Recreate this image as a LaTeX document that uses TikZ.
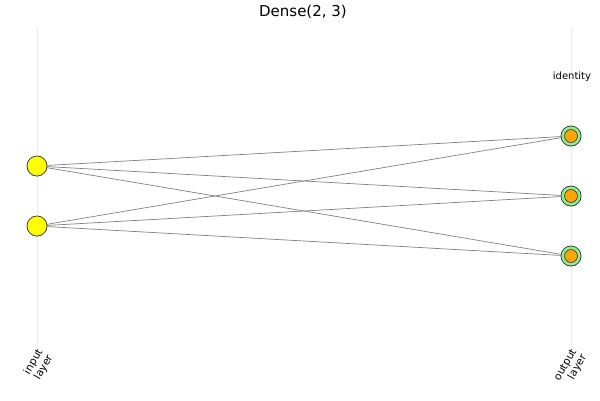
\documentclass[tikz,border=0pt]{standalone}
\usepackage{fontspec}
\setmainfont{DejaVu Sans}
\definecolor{nodeorange}{HTML}{FFA500}
\definecolor{nodegreen}{HTML}{90EE90}
\definecolor{nodeyellow}{HTML}{FFFF00}
\begin{document}
\begin{tikzpicture}[x=1pt,y=-1pt,
  gridline/.style={draw=black!8, line width=0.5pt},
  edge/.style={draw=black!50, line width=0.7pt},
  innode/.style={circle, draw=black!80, fill=nodeyellow, minimum size=20pt, inner sep=0pt, line width=0.6pt},
  outring/.style={circle, draw=black!80, fill=nodegreen, minimum size=20pt, inner sep=0pt, line width=0.6pt},
  outcore/.style={circle, draw=black!80, fill=nodeorange, minimum size=13pt, inner sep=0pt, line width=0.6pt},
  ticklbl/.style={font=\fontsize{10.5}{11.5}\selectfont, rotate=60, anchor=east, align=right, inner sep=1pt}
]
\useasboundingbox (0,0) rectangle (600,400);
\coordinate (g1t) at (37,28); \coordinate (g1b) at (37,345);
\coordinate (g2t) at (571,28); \coordinate (g2b) at (571,345);
\draw[gridline] (g1t) -- (g1b);
\draw[gridline] (g2t) -- (g2b);
\node[font=\fontsize{15}{17}\selectfont] (title) at (303,12) {Dense(2, 3)};
\node[font=\fontsize{10}{12}\selectfont] (act) at (572,77) {identity};
\node[innode] (i1) at (37,166) {};
\node[innode] (i2) at (37,226) {};
\node[outring] (o1) at (571,136) {};
\node[outring] (o2) at (571,196) {};
\node[outring] (o3) at (571,256) {};
\foreach \i in {1,2}{\foreach \o in {1,2,3}{\draw[edge] (i\i) -- (o\o);}}
\node[innode] at (i1) {};
\node[innode] at (i2) {};
\foreach \o in {1,2,3}{\node[outring] at (o\o) {}; \node[outcore] at (o\o) {};}
\node[ticklbl] (l1) at (46,352) {input\\layer};
\node[ticklbl] (l2) at (580,352) {output\\layer};
\end{tikzpicture}
\end{document}
